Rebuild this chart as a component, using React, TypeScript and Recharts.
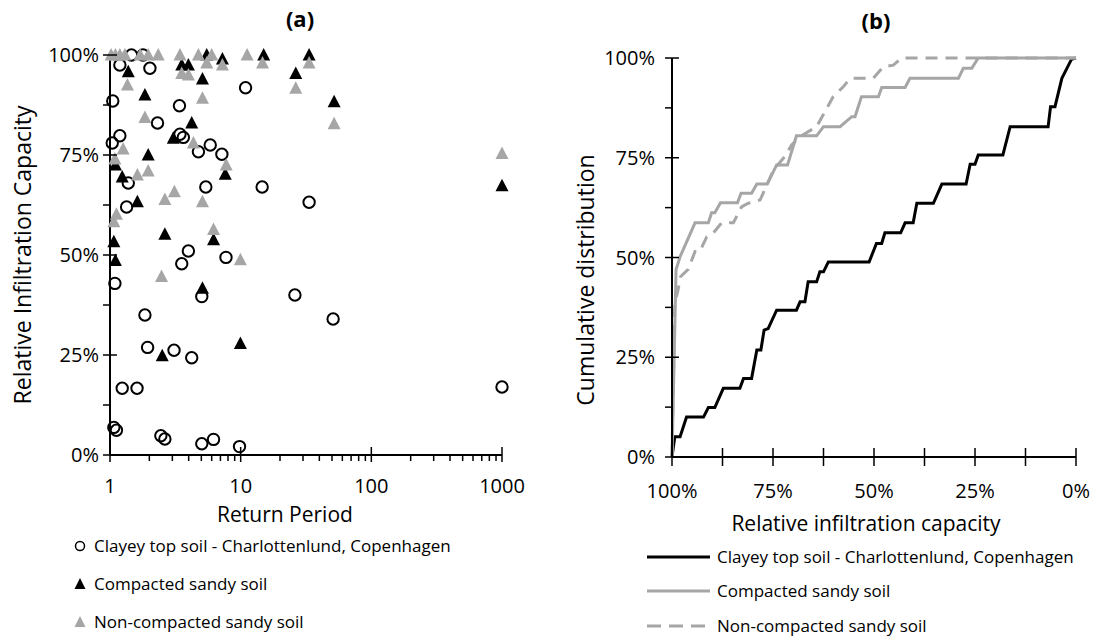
import { ScatterChart, Scatter, LineChart, Line, XAxis, YAxis } from 'recharts';

const FONT = '"Open Sans", sans-serif';
const GREY = '#a6a6a6';

// (a) return period vs relative infiltration capacity (%)
const clayeyRP = [1.05, 1.04, 1.19, 1.19, 1.46, 1.79, 2.02, 1.38, 1.34, 1.09, 2.31, 3.4, 3.43, 3.64, 4.75, 5.85, 7.18, 5.41, 10.9, 14.6, 3.98, 3.54, 7.72, 5.04, 1.85, 1.94, 3.09, 4.22, 1.24, 1.61, 1.07, 1.12, 2.45, 2.63, 5.04, 6.2, 9.8, 33.4, 26, 51, 1000];
const clayeyRel = [88.5, 78, 79.8, 97.5, 100, 100, 96.7, 68, 62, 42.9, 83, 87.3, 80.2, 79.4, 75.8, 77.5, 75.2, 67, 91.8, 67, 51, 47.8, 49.4, 39.6, 35, 26.9, 26.2, 24.3, 16.7, 16.7, 6.9, 6.2, 4.8, 4, 2.8, 3.9, 2.1, 63.2, 40, 34, 17];

const compactRP = [1.38, 1.85, 1.96, 1.24, 1.62, 1.07, 1.1, 2.63, 6.2, 7.62, 3.05, 4.22, 5.1, 3.54, 3.98, 5.5, 7.25, 15, 26.4, 33.4, 51.9, 1000, 5.1, 2.51, 9.95, 1.1];
const compactRel = [95.8, 90, 75, 69.5, 63.3, 53.3, 48.6, 55.2, 53.8, 70.2, 79.2, 83, 94, 97.5, 97.5, 100, 99, 100, 95.4, 100, 88.3, 67.3, 41.7, 24.8, 27.9, 72.5];

const looseRP = [1.02, 1.1, 1.19, 1.3, 1.7, 1.96, 2.34, 3.43, 4.75, 6.0, 11.2, 1.36, 1.85, 1.26, 1.09, 1.62, 1.96, 3.54, 3.98, 5.1, 4.35, 7.75, 7.25, 3.11, 2.63, 5.1, 1.12, 1.07, 6.2, 2.48, 9.95, 14.7, 26.4, 33.4, 51.9, 1000, 5.5];
const looseRel = [100, 100, 100, 100, 100, 100, 100, 100, 100, 100, 100, 92.5, 84.4, 76.5, 74, 70, 71, 95.4, 95, 89.2, 78, 72.5, 97.5, 65.8, 63.9, 63.3, 60.2, 58.3, 56.4, 44.6, 48.8, 98, 91.7, 98, 82.8, 75.4, 98];

// (b) cumulative distribution vs relative infiltration capacity (%)
const clayeyCap = [100, 99.3, 98, 96.4, 92.2, 91, 89.4, 87.3, 83.2, 82.3, 80.3, 79, 78, 77.2, 76.2, 74.1, 69.2, 68.3, 67.1, 66.3, 64.2, 63.4, 62.5, 61.3, 51.2, 49.4, 48.1, 47.3, 43.4, 42.3, 40.3, 39.4, 35.3, 33.2, 27.2, 26.2, 25, 24.2, 18.1, 16.3, 6.9, 6.3, 5.2, 3.5, 1.1, 0];
const clayeyCum = [0, 5.1, 5.1, 10, 10, 12.4, 12.4, 17.2, 17.2, 19.7, 19.7, 26.8, 26.8, 31.8, 32.2, 36.8, 36.8, 38.9, 38.9, 43.9, 43.9, 46.4, 46.4, 48.9, 48.9, 53.5, 53.5, 56.2, 56.2, 58.7, 58.7, 63.6, 63.6, 68.4, 68.4, 73.4, 73.4, 75.7, 75.7, 82.8, 82.8, 87.8, 87.8, 94.9, 99.7, 100];

const compactCap = [100, 99.5, 99, 98, 94.3, 91, 90.2, 89.4, 88, 83.8, 82.9, 80.3, 79, 76.4, 74.1, 71.4, 69.2, 64.2, 62.5, 58.4, 55.5, 54.7, 53.1, 48.9, 48.1, 42.3, 41.1, 29.1, 27.9, 25.8, 24.2, 0];
const compactCum = [0, 23.5, 47, 50.2, 58.7, 58.7, 61.2, 61.2, 63.7, 63.7, 66.1, 66.1, 68.4, 68.4, 73.2, 73.2, 80.5, 80.5, 82.8, 82.8, 85.3, 85.3, 90.3, 90.3, 92.6, 92.6, 94.9, 94.9, 97.4, 97.4, 100, 100];

const looseCap = [100, 99.3, 98.5, 97.9, 96, 94.3, 93.1, 91.4, 89.8, 87.7, 84.8, 82.8, 81.1, 78.2, 74.9, 72, 70.4, 68.3, 64.2, 60.1, 57.6, 55.9, 50.2, 47.7, 45.2, 43.2, 0];
const looseCum = [0, 38.5, 41.9, 45.2, 47, 51.5, 51.5, 55.2, 56.1, 58.7, 58.7, 62.7, 63.6, 64.4, 71.9, 75.4, 78.2, 80.3, 82.8, 90.3, 92.8, 94.9, 94.9, 97.8, 98.2, 100, 100];

const logTicks = [1, 2, 3, 4, 5, 6, 7, 8, 9, 10, 20, 30, 40, 50, 60, 70, 80, 90, 100, 200, 300, 400, 500, 600, 700, 800, 900, 1000];
const pctTicks = [0, 12.5, 25, 37.5, 50, 62.5, 75, 87.5, 100];

const zip = (xs: number[], ys: number[]) => xs.map((x, i) => ({ x, y: ys[i] }));

const clayeyPts = zip(clayeyRP, clayeyRel);
const compactPts = zip(compactRP, compactRel);
const loosePts = zip(looseRP, looseRel);

const clayeyCdf = zip(clayeyCap, clayeyCum);
const compactCdf = zip(compactCap, compactCum);
const looseCdf = zip(looseCap, looseCum);

const txt = { fontFamily: FONT, fill: '#000' };

const LogTick = ({ x, y, payload }: any) => {
  const v = payload.value;
  const major = v === 1 || v === 10 || v === 100 || v === 1000;
  return (
    <g>
      <line x1={x} x2={x} y1={major ? y - 8 : y} y2={y + (major ? 7 : 6)} stroke="#000" strokeWidth={1.5} />
      {major && (
        <text x={x} y={y + 38} textAnchor="middle" fontSize={20} {...txt}>
          {v}
        </text>
      )}
    </g>
  );
};

const makeYTick = (gap: number) => ({ x, y, payload }: any) => {
  const v = payload.value;
  const major = v % 25 === 0;
  return (
    <g>
      <line x1={x - 7} x2={major ? x + 7 : x} y1={y} y2={y} stroke="#000" strokeWidth={1.5} />
      {major && (
        <text x={x - gap} y={y + 7} textAnchor="end" fontSize={20} {...txt}>
          {v}%
        </text>
      )}
    </g>
  );
};

const CapTick = ({ x, y, payload }: any) => {
  const v = payload.value;
  const major = v % 25 === 0;
  return (
    <g>
      <line x1={x} x2={x} y1={y - 9} y2={y + 9} stroke="#000" strokeWidth={1.5} />
      {major && (
        <text x={x} y={y + 41} textAnchor="middle" fontSize={20} {...txt}>
          {v}%
        </text>
      )}
    </g>
  );
};

const Ring = ({ cx, cy }: any) => <circle cx={cx} cy={cy} r={5.7} fill="none" stroke="#000" strokeWidth={2} />;

const tri = (fill: string) => ({ cx, cy }: any) => (
  <polygon points={`${cx},${cy - 7} ${cx - 6.5},${cy + 5.5} ${cx + 6.5},${cy + 5.5}`} fill={fill} />
);

const axisLine = { stroke: '#000', strokeWidth: 2 };

export default function App() {
  return (
    <div style={{ position: 'absolute', left: 0, top: 0, width: 1100, height: 637, background: '#fff' }}>
      <div style={{ position: 'absolute', left: 0, top: 0 }}>
        <ScatterChart width={550} height={637} margin={{ top: 55, right: 48, bottom: 152, left: 0 }}>
          <XAxis
            type="number"
            dataKey="x"
            scale="log"
            domain={[1, 1000]}
            ticks={logTicks}
            interval={0}
            tick={<LogTick />}
            tickLine={false}
            tickSize={0}
            tickMargin={0}
            axisLine={axisLine}
            height={30}
          />
          <YAxis
            type="number"
            dataKey="y"
            domain={[0, 100]}
            ticks={pctTicks}
            interval={0}
            tick={makeYTick(11)}
            tickLine={false}
            tickSize={0}
            tickMargin={0}
            axisLine={axisLine}
            width={110}
          />
          <Scatter data={clayeyPts} shape={Ring} isAnimationActive={false} />
          <Scatter data={compactPts} shape={tri('#000')} isAnimationActive={false} />
          <Scatter data={loosePts} shape={tri(GREY)} isAnimationActive={false} />
        </ScatterChart>
      </div>
      <div style={{ position: 'absolute', left: 550, top: 0 }}>
        <LineChart width={550} height={637} margin={{ top: 58, right: 24, bottom: 150, left: 0 }}>
          <XAxis
            type="number"
            dataKey="x"
            domain={[0, 100]}
            reversed
            ticks={pctTicks}
            interval={0}
            tick={<CapTick />}
            tickLine={false}
            tickSize={0}
            tickMargin={0}
            axisLine={axisLine}
            height={30}
          />
          <YAxis
            type="number"
            domain={[0, 100]}
            ticks={pctTicks}
            interval={0}
            tick={makeYTick(17)}
            tickLine={false}
            tickSize={0}
            tickMargin={0}
            axisLine={axisLine}
            width={122}
          />
          <Line data={clayeyCdf} dataKey="y" stroke="#000" strokeWidth={3} dot={false} isAnimationActive={false} />
          <Line data={compactCdf} dataKey="y" stroke={GREY} strokeWidth={3} dot={false} isAnimationActive={false} />
          <Line data={looseCdf} dataKey="y" stroke={GREY} strokeWidth={3} strokeDasharray="12 8" dot={false} isAnimationActive={false} />
        </LineChart>
      </div>
      <svg width={1100} height={637} style={{ position: 'absolute', left: 0, top: 0, pointerEvents: 'none' }}>
        <text x={300} y={27} textAnchor="middle" fontSize={22} fontWeight="bold" {...txt}>(a)</text>
        <text x={876} y={29} textAnchor="middle" fontSize={22} fontWeight="bold" {...txt}>(b)</text>
        <text x={285} y={522} textAnchor="middle" fontSize={21} {...txt}>Return Period</text>
        <text x={866} y={531} textAnchor="middle" fontSize={21} {...txt}>Relative infiltration capacity</text>
        <text x={22} y={255} transform="rotate(-90 22 255)" textAnchor="middle" dominantBaseline="central" fontSize={23} {...txt}>
          Relative Infiltration Capacity
        </text>
        <text x={585} y={280} transform="rotate(-90 585 280)" textAnchor="middle" dominantBaseline="central" fontSize={23} {...txt}>
          Cumulative distribution
        </text>

        <circle cx={80} cy={546} r={4.5} fill="none" stroke="#000" strokeWidth={1.5} />
        <text x={94} y={552} fontSize={17} {...txt}>Clayey top soil - Charlottenlund, Copenhagen</text>
        <polygon points="80,578 74.5,589 85.5,589" fill="#000" />
        <text x={94} y={590} fontSize={17} {...txt}>Compacted sandy soil</text>
        <polygon points="80,616 74.5,627 85.5,627" fill={GREY} />
        <text x={94} y={628} fontSize={17} {...txt}>Non-compacted sandy soil</text>

        <line x1={647} x2={710} y1={557} y2={557} stroke="#000" strokeWidth={3} />
        <text x={717} y={563} fontSize={17} {...txt}>Clayey top soil - Charlottenlund, Copenhagen</text>
        <line x1={647} x2={710} y1={591} y2={591} stroke={GREY} strokeWidth={3} />
        <text x={717} y={597} fontSize={17} {...txt}>Compacted sandy soil</text>
        <line x1={647} x2={710} y1={626} y2={626} stroke={GREY} strokeWidth={3} strokeDasharray="14 8" />
        <text x={717} y={632} fontSize={17} {...txt}>Non-compacted sandy soil</text>
      </svg>
    </div>
  );
}
